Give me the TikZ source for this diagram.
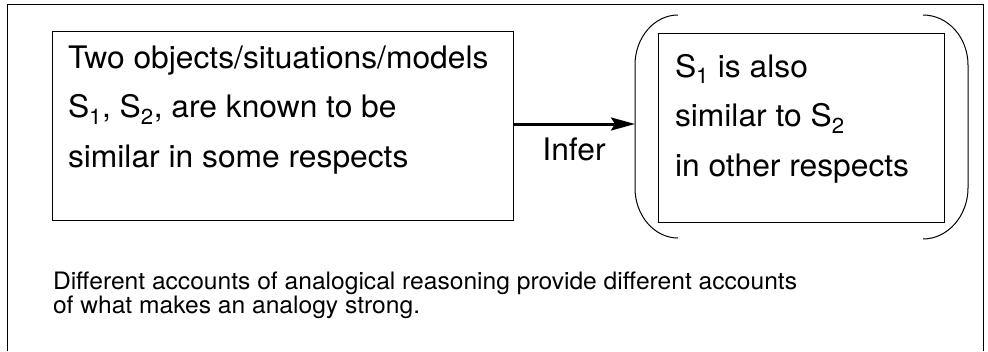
\documentclass[tikz,border=0pt]{standalone}
\usepackage{fontspec}
\setmainfont{TeX Gyre Heros}[FakeStretch=1.025]
\usetikzlibrary{arrows.meta}
\newcommand{\bigtxt}{\fontsize{31}{49.5}\selectfont}
\newcommand{\smalltxt}{\fontsize{24}{23}\selectfont}
\begin{document}
\begin{tikzpicture}[x=1pt,y=-1pt,
  frame/.style={line width=1pt},
  boxnode/.style={draw,line width=1pt,rectangle,inner sep=0pt},
  txt/.style={anchor=base west,inner sep=0pt,outer sep=0pt},
  paren/.style={line width=1pt},
  infarrow/.style={line width=3pt,-{Stealth[length=24pt,width=13pt,inset=4pt]}}]
\useasboundingbox (0,0) rectangle (988,351);
% outer frame (open at the bottom)
\draw[frame] (7,351) -- (7,4) -- (983,4) -- (983,351);
% boxes
\node[boxnode,minimum width=461pt,minimum height=189pt] (left) at (282.5,125.5) {};
\node[boxnode,minimum width=286pt,minimum height=189pt] (right) at (801,127.5) {};
% texts
\node[txt] (lefttext) at (68,68) {\bigtxt\begin{tabular}[t]{@{}l@{}}Two objects/situations/models\\S\textsubscript{1}, S\textsubscript{2}, are known to be\\similar in some respects\end{tabular}};
\node[txt] (righttext) at (675,77) {\bigtxt\begin{tabular}[t]{@{}l@{}}S\textsubscript{1} is also\\similar to S\textsubscript{2}\\in other respects\end{tabular}};
% parentheses
\draw[paren] (678,15) .. controls (654.3,15) and (635,37.4) .. (635,65) -- (635,188) .. controls (635,215.6) and (654.3,238) .. (678,238);
\draw[paren] (923,15) .. controls (947.9,15) and (968,37.4) .. (968,65) -- (968,188) .. controls (968,215.6) and (947.9,239) .. (923,239);
\coordinate (parenL) at (635,124);
% arrow
\draw[infarrow] (left.east |- parenL) -- (parenL);
\node[anchor=base,inner sep=0pt] (infer) at (574,160) {\bigtxt Infer};
% caption
\node[txt] (caption) at (53,289) {\smalltxt\begin{tabular}[t]{@{}l@{}}Different accounts of analogical reasoning provide different accounts\\of what makes an analogy strong.\end{tabular}};
\end{tikzpicture}
\end{document}
